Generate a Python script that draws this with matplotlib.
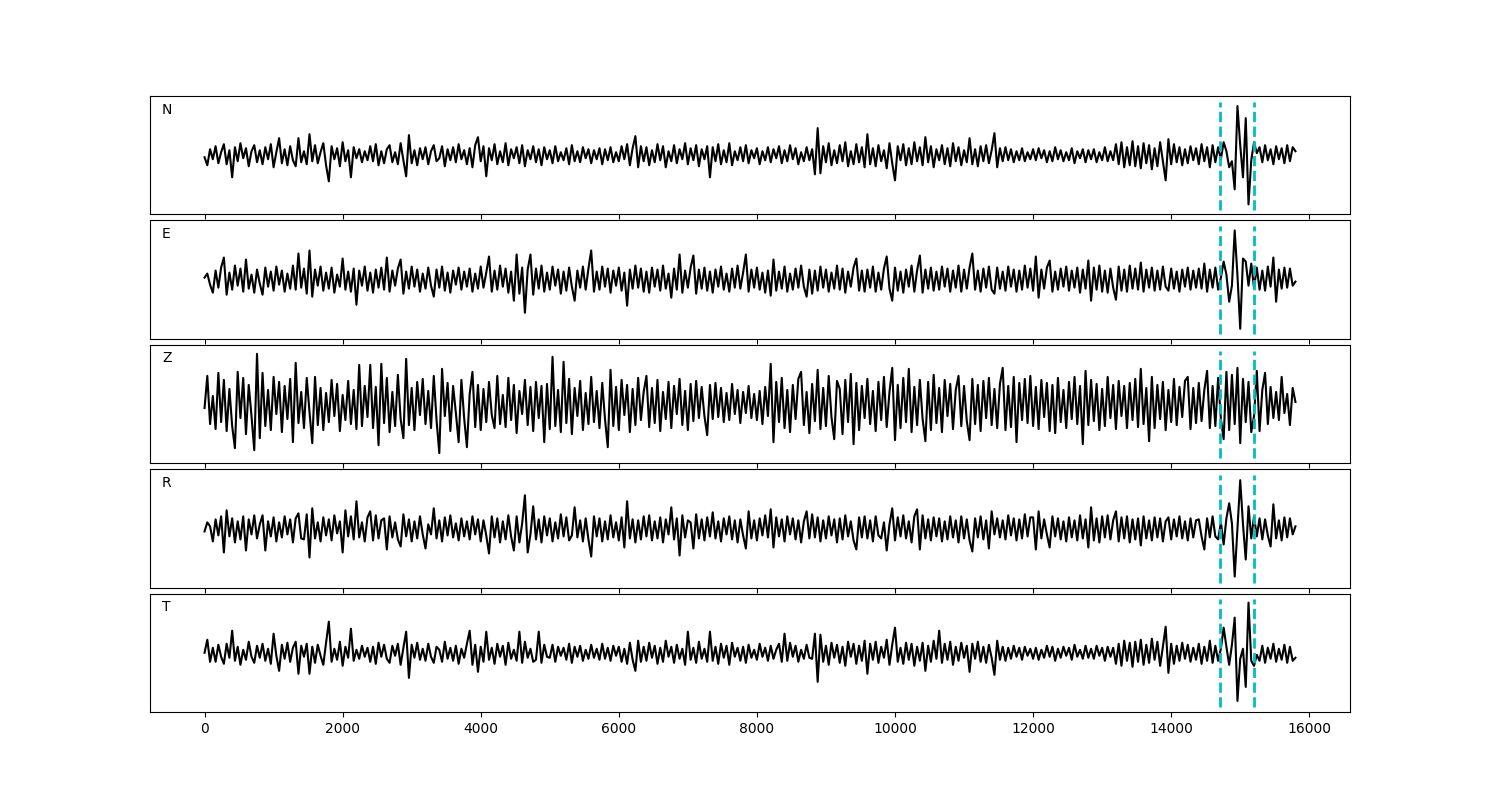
import matplotlib
matplotlib.use('Agg')
import matplotlib.pyplot as plt
import numpy as np

# one value every 40 samples, amplitudes (arbitrary units)
step = 40
components = ['N', 'E', 'Z', 'R', 'T']
pick_start = 14700
pick_end = 15200

n_vals = [
    -2, -10, 6, -4, 9, -8, 3, 11, -9, 5, -22, 8, -6, 12, -3, 7, -11, 4, 10, -7,
    5, -9, 8, -4, 11, -12, 3, 17, -8, 6, -10, 9, -5, -11, 17, -7, 4, -9, 21, -6,
    10, -8, 3, 12, -10, -26, 9, -4, 7, -11, 13, -6, 5, -22, 8, -3, 6, -7, 4, -5,
    9, -6, 11, -10, 4, -8, 6, 10, -7, 3, -9, 12, -5, -21, 20, -8, 5, -10, 7, -4,
    8, -9, 4, 10, -6, -3, 9, -11, 6, -5, 8, -7, 11, -4, 5, -9, 7, -12, 10, 18,
    -6, 9, -21, 7, -5, 11, -9, 4, -7, 12, -10, 6, -3, 8, -8, 10, -11, 5, -4, 9,
    -7, 6, -10, 8, -4, 5, -8, 9, -6, 3, -5, 7, -9, 10, -6, 4, -7, 8, -3, 6,
    -8, 5, -4, 7, -9, 6, -5, 8, -7, 3, -6, 9, -4, 11, -10, 7, 19, -12, 9, -6,
    8, -10, 5, -7, 11, -5, 9, -12, 4, -6, 10, -8, 6, -4, 12, -9, 7, -5, 10, -11,
    6, -4, 9, -22, 8, -6, 11, -9, 5, -7, 12, -10, 4, -5, 8, -6, 10, -8, 5, -3,
    7, -9, 4, -5, 8, -7, 6, -3, 9, -8, 5, -6, 10, -4, 7, -9, 3, -6, 8, -5,
    6, -19, 27, -18, 9, -7, 12, -10, 5, -8, 10, -6, 13, -11, 4, -9, 11, -7, 8, -12,
    21, -9, 7, -11, 10, -6, 5, -13, 12, -8, -25, 9, -5, 11, -10, 7, -9, 13, -6, 8,
    -10, 18, -7, 9, -12, 6, -5, 10, -9, 7, -11, 12, -6, 8, -10, 5, -7, 17, -9, 6,
    -11, 9, -6, 10, -8, 5, 22, -12, 7, -6, 8, -5, 6, -7, 4, -5, 7, -6, 3, -4,
    6, -5, 7, -3, 5, -7, 4, -6, 8, -4, 5, -6, 3, -5, 7, -8, 4, -3, 6, -7,
    5, -4, 6, -7, 3, -5, 8, -6, 4, -5, 11, -9, 13, -12, 8, -10, 14, -11, 9, -13,
    12, -8, 10, -14, 7, -11, 13, -6, -25, 16, -9, 11, -7, 8, -10, 6, -8, 9, -5, 7,
    -9, 11, -6, 8, -12, 10, -7, 8, -4, 13, 4, -12, -6, -34, 49, 10, -22, 37, -49, -5,
    13, 2, 8, -7, 10, -5, 6, -9, 9, -4, 7, -8, 10, -6, 8, 4,
]

e_vals = [
    2, 6, -5, -13, 9, -8, 12, 22, -15, 7, -10, 14, -6, 11, -12, 20, -9, 5, -13, 10,
    -4, -15, 12, -7, 8, -11, 13, -5, 9, -12, 6, -9, 14, -10, 26, -8, 11, -14, 29, -17,
    10, -6, 13, -11, 7, -9, 12, -13, 5, -7, 21, -10, 8, -12, 11, -25, 9, -6, 13, -11,
    7, -13, 10, -8, 12, -10, 22, -12, 9, -6, 11, 20, -14, 8, -9, 13, -7, 10, -12, 6,
    -9, 12, -6, -17, 10, -8, 13, -11, 7, -13, 9, -5, 12, -10, 8, -7, 11, -12, 6, -9,
    13, -8, 7, 23, -12, 9, -10, 14, -7, 11, -13, 8, -21, 25, -14, 12, -33, 10, 25, -15,
    11, -9, 14, -12, 7, -10, 13, -6, 10, -14, 8, -11, 12, -7, -21, 9, -8, 13, -10, 11,
    29, -12, 8, -10, 13, -7, 11, -13, 9, -6, 12, -11, 7, -26, 10, -9, 14, -8, 11, -12,
    8, -13, 12, -7, 10, -11, 14, -9, 6, -18, 11, -10, 25, -13, 9, -8, 12, 24, -14, 10,
    -9, 12, -11, 8, -13, 10, -7, 13, -10, 6, -12, 11, -8, 14, -9, 7, 25, -12, 10, -8,
    12, -10, 7, -13, 9, -16, 20, -11, 8, -9, 13, -12, 6, -10, 11, -8, 14, -7, -17, 10,
    -14, 9, -11, 13, -8, 10, -12, 7, -9, 14, -10, 11, -13, 8, -7, 12, 21, -11, 9, -12,
    10, -8, 13, -12, 7, -10, 11, 23, -9, -21, 12, -11, 8, -13, 10, -7, 14, -12, 9, 24,
    -13, 10, -9, 12, -11, 8, -10, 13, -7, 11, -12, 9, -8, 14, -12, 10, -9, 12, 26, -10,
    9, -12, 11, -8, 13, -10, -14, 12, -9, 8, -11, 13, -7, 10, -12, 9, -10, 14, -8, 11,
    -11, 23, -18, 10, -9, 12, 19, -12, 8, -10, 11, -7, 13, -11, 9, -8, 12, -13, 10, -9,
    19, -21, 12, -10, 14, -12, 9, -13, 11, -8, -20, 13, -11, 10, -12, 14, -9, 11, -10, 17,
    -12, 10, -8, 12, -11, 9, -10, 13, -7, -11, 11, -9, 8, -12, 10, -7, 12, -10, 9, -8,
    11, -9, 16, -12, 10, -8, 12, -10, 2, 18, 5, -22, -6, 49, 4, -49, 21, 18, -6, 16,
    -8, 12, -10, 9, -11, 13, -7, 22, -22, 10, -9, 12, -8, 11, -6, -2,
]

z_vals = [
    -4, 28, -20, 8, -25, 31, -18, 24, -27, 15, -22, -44, 32, -14, 26, -30, 19, -12, -46, 50,
    -34, 31, -22, 14, -26, 27, -10, 22, -28, 18, -15, 25, -38, 41, -19, 12, -24, 26, -8, -39,
    27, -21, 16, -26, 11, -18, 24, -12, 20, -27, 9, -16, 23, -20, 14, -25, 39, -22, 18, -13,
    39, -24, 17, -41, 40, -19, 26, -28, 12, -22, 29, -15, -34, 45, -21, 16, -26, 22, -11, 25,
    -20, 13, -24, 28, -16, -49, 35, -12, 21, -27, 18, -9, -38, 24, -14, -43, 10, 32, -23, 19,
    -26, 15, -18, 22, -11, -24, 28, -20, 9, -23, 26, -16, 19, -29, 13, -10, 24, -21, 17, -27,
    22, -14, 18, -38, 20, -25, 47, -22, 14, -28, 42, -19, 25, -30, 16, -12, 23, -26, 11, -20,
    27, -18, 13, -24, 21, -15, -43, 34, -22, 17, -26, 24, -11, 19, -28, 15, -21, 26, -16, 12,
    28, -23, 16, -19, 24, -27, 12, -15, 22, -24, 18, -10, 25, -21, 13, -26, 20, -17, 23, -14,
    17, -12, -31, 19, -15, 21, -13, 16, -18, 11, -16, 20, -10, 14, -19, 12, -9, 18, -14, 10,
    -16, 13, -20, 17, -12, 40, -38, 22, -18, 26, -24, 14, -28, 19, -15, 25, 32, -21, 12, -29,
    20, -17, 34, -25, 16, -22, 28, -13, -35, 23, 15, -30, 24, -18, 30, -40, 21, -26, 18, -14,
    25, -20, 13, -27, 22, -16, 27, -23, 12, 36, -36, 19, -24, 26, -18, 35, -28, 17, -21, 24,
    -15, -37, 22, -26, 29, -19, 16, -28, 24, -12, 20, -25, 14, 28, -22, 18, -17, -36, 25, -20,
    19, -27, 23, -14, 26, -21, 15, -24, 20, 36, -26, 18, -23, 27, -38, 21, -16, 25, -19, 28,
    -22, 17, -25, 24, -13, 21, -27, 19, -29, 26, -18, 14, -24, 22, -15, 27, -20, 18, -40, 33,
    -21, 24, -17, 20, -26, 15, -22, 27, -14, 19, -25, 23, -12, 18, -24, 21, -16, 25, -23, 35,
    -20, 16, -37, 27, -24, 19, -15, 22, -26, 14, -18, 25, -21, 17, -13, 23, 27, -25, 16, -19,
    21, -17, 14, 33, -24, 18, -22, 26, -15, -35, 32, -26, 29, -20, 36, -39, 25, -18, 22, -28,
    -12, 33, -27, 14, 31, -20, 17, -14, 12, -16, 27, -9, 10, -21, 16, 2,
]

r_vals = [
    -3, 6, 2, -13, 9, -7, 12, -24, 18, -8, 10, -14, 7, -11, 12, -22, 9, -6, 13, -10,
    4, 13, -22, 7, -8, 11, -13, 6, -9, 12, -6, 9, -14, 10, 15, -10, -11, 14, -29, 20,
    -10, 6, -13, 11, -7, 9, -12, 13, -5, 7, -24, 18, -8, 12, -11, 27, -9, 6, -13, 11,
    17, -12, 13, -10, 8, 10, -21, 12, -9, 6, -11, -18, 14, -8, 9, -13, 7, -10, 12, -6,
    -20, 4, -6, 20, -10, 8, -13, 11, -7, 13, -9, 5, -12, 10, -8, 7, -11, 12, -6, 9,
    -13, 8, -7, -25, 12, -9, 10, -14, 7, -11, 13, -8, -22, 12, -14, 5, 33, -24, -6, 22,
    -11, 9, -14, 12, -7, 10, -13, 6, -10, 14, -8, 11, -12, -7, 21, -9, 8, -13, 10, -11,
    -28, 12, -8, 10, -13, 7, -11, 13, -9, 6, -12, 11, -19, 27, -10, 9, -14, 8, -11, 12,
    -8, 13, -12, 7, -10, 11, -14, 9, -6, 21, -11, 10, -27, 13, -9, 8, 6, -20, 14, -10,
    9, -12, 11, -8, 16, -10, 7, -13, 10, -6, 12, -11, 8, -14, 9, -7, -20, 17, -10, 8,
    -12, 10, -7, 13, -9, 19, -19, 11, -8, 9, -13, 12, -6, 10, -11, 8, -14, 7, 17, -10,
    14, -9, 11, -13, 8, -10, 12, -7, 9, -14, 10, -11, 13, -8, 7, -12, -21, 11, -9, 12,
    -10, 8, -13, 12, -7, -10, 6, -22, 4, 20, -12, 11, -8, 13, -10, 7, -14, 12, 19, -21,
    13, -10, 9, -12, 11, -8, 10, -13, 7, -11, 12, -9, 8, -14, 12, -10, 9, -12, -23, 10,
    -9, 12, -11, 8, -20, 17, -6, 10, -9, 8, -11, 13, -7, 10, -12, 9, -10, 14, -8, 11,
    11, -21, 17, -10, 9, -6, -19, 12, -8, 10, -11, 7, -13, 11, -9, 8, -12, 13, -10, 9,
    -19, 21, -12, 10, -14, 12, -9, 13, -11, 8, 17, -13, 11, -10, 12, -14, 9, -11, 10, -17,
    12, -10, 8, -12, 11, -9, 10, -13, 7, 11, -11, 9, -8, 12, -10, 7, -12, 10, -9, 8,
    9, -8, -21, 10, -9, 12, -8, -11, 6, -16, 10, 25, 5, -48, 0, 48, 4, -31, 22, -10,
    12, -8, 10, -11, 9, -7, -18, 24, -10, 8, -12, 11, -9, 10, -6, 2,
]

t_vals = [
    0, 13, -9, 5, -9, 8, -4, -11, 9, -5, 22, -8, 6, -12, 3, -7, 11, -4, -10, 7,
    -5, 9, -8, 4, -11, 19, -3, -18, 8, -6, 10, -9, 5, 11, -21, 7, -4, 9, -21, 6,
    -10, 8, -3, -12, 10, 31, -9, 4, -7, 11, -13, 6, -5, 24, -8, 3, -6, 7, -4, 5,
    -9, 6, -11, 10, -4, 8, -6, -10, 7, -3, 9, -12, 5, 21, -25, 8, -5, 10, -7, 4,
    -8, 9, -4, -10, 6, 3, -9, 11, -6, 5, -8, 7, -11, 4, -5, 9, 22, -12, 8, -19,
    6, -9, 21, -7, 5, -11, 9, -4, 7, -12, 10, -6, 3, -8, 21, -10, 11, -5, 4, -9,
    -7, 21, -10, 8, -4, -5, 8, -9, 6, -3, 5, -7, 9, -10, 6, -4, 7, -8, 3, -6,
    8, -5, 4, -7, 9, -6, 5, -8, 7, -3, 6, -9, 4, -11, 10, -7, -18, 12, -9, 6,
    -8, 10, -5, 7, -11, 5, -9, 12, -4, 6, -10, 8, -6, 4, -12, 21, -7, 5, -10, 11,
    -6, 4, -9, 21, -8, 6, -11, 9, -5, 7, -12, 10, -4, 5, -8, 6, -10, 8, -5, 3,
    -7, 9, -4, 5, -8, 7, -6, 3, 9, -9, 19, -8, 10, -4, 7, -9, 3, -6, 8, -5,
    -6, 19, -29, 18, -9, 7, -12, 10, -5, 8, -10, 6, -13, 11, -4, 9, -11, 7, -8, 12,
    -21, 9, -7, 11, -10, 6, -5, 13, -12, 8, 25, -9, 5, -11, 10, -7, 9, -13, 6, -8,
    10, -18, 7, -9, 12, -6, 22, -10, 9, -7, 11, -12, 6, -8, 10, -5, 7, -19, 9, -6,
    11, -9, 6, -10, 8, -5, -22, 12, -7, 6, -8, 5, -6, 7, -4, 5, -7, 6, -3, 4,
    -6, 5, -7, 3, -5, 7, -4, 6, -8, 4, -5, 6, -3, 5, -7, 8, -4, 3, -6, 7,
    -5, 4, -6, 7, -3, 5, -8, 6, -4, 5, -11, 9, -13, 12, -8, 10, -14, 11, -9, 13,
    -12, 8, -10, 14, -7, 11, -13, 6, 26, -20, 9, -11, 7, -8, 10, -6, 8, -9, 5, -7,
    9, -11, 6, -8, 12, -10, 7, -8, 4, 25, 6, -12, 8, 35, -48, -6, 4, -34, 50, -8,
    -13, -2, -8, 7, -10, 5, -6, 9, -9, 4, -7, 8, -10, 6, -8, -5,
]

traces = [n_vals, e_vals, z_vals, r_vals, t_vals]

fig, axes = plt.subplots(5, 1, figsize=(15, 8), sharex=True)
fig.subplots_adjust(left=0.1, right=0.9, top=0.88, bottom=0.11, hspace=0.05)

for ax, name, vals in zip(axes, components, traces):
    t = np.arange(len(vals)) * step
    ax.plot(t, vals, 'k-', lw=1.5)
    ax.axvline(pick_start, color='c', ls='--', lw=2, ymin=0.04, ymax=0.95)
    ax.axvline(pick_end, color='c', ls='--', lw=2, ymin=0.04, ymax=0.95)
    ax.set_ylim(-59, 59)
    ax.set_yticks([])
    ax.text(0.01, 0.945, name, transform=ax.transAxes, va='top', ha='left')

fig.savefig('out.png', dpi=100)
